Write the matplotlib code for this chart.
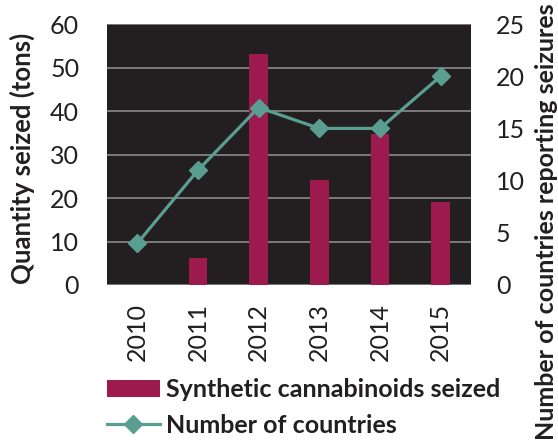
import matplotlib
matplotlib.use("Agg")
import matplotlib.pyplot as plt
from matplotlib.patches import Patch
from matplotlib.lines import Line2D

years = ["2010", "2011", "2012", "2013", "2014", "2015"]
quantity_tons = [0.0, 6.2, 53.1, 24.1, 34.7, 19.1]
num_countries = [4, 11, 17, 15, 15, 20]

bar_color = "#9c1a4e"
line_color = "#5a9e91"
bg_color = "#231f20"
grid_color = "#8a8a8a"
text_color = "#231f20"

plt.rcParams['font.family'] = ['Lato', 'DejaVu Sans']

fig = plt.figure(figsize=(5.58, 4.40), dpi=100)
ax = fig.add_axes([107/558, 155/440, 364/558, 261/440])
ax.set_facecolor(bg_color)

x = list(range(len(years)))
ax.bar(x, quantity_tons, width=0.31, color=bar_color, zorder=2)
ax.set_ylim(0, 60)
ax.set_xlim(-0.5, len(years) - 0.5)
ax.set_yticks(range(0, 61, 10))
ax.yaxis.grid(True, color=grid_color, linewidth=1.2, zorder=1)
ax.set_axisbelow(True)
ax.set_xticks(x)
ax.set_xticklabels(years, rotation=90, fontsize=18, color=text_color)
ax.tick_params(axis='x', length=0, pad=13)
ax.tick_params(axis='y', length=0, pad=20, labelsize=18, labelcolor=text_color)
for s in ax.spines.values():
    s.set_visible(False)

ax2 = ax.twinx()
ax2.plot(x, num_countries, color=line_color, linewidth=2.3, marker='D', markersize=9.5, zorder=3)
ax2.set_ylim(0, 25)
ax2.set_yticks(range(0, 26, 5))
ax2.tick_params(axis='y', length=0, pad=18, labelsize=18, labelcolor=text_color)
for s in ax2.spines.values():
    s.set_visible(False)

fig.text(22/558, 1 - 158/440, "Quantity seized (tons)", rotation=90, ha='center', va='center',
         fontsize=18.5, fontweight='bold', color=text_color)
fig.text(546/558, 1 - 222/440, "Number of countries reporting seizures", rotation=90,
         ha='center', va='center', fontsize=18, fontweight='bold', color=text_color)

handles = [Patch(facecolor=bar_color, edgecolor='none'),
           Line2D([0], [0], color=line_color, linewidth=2.3, marker='D', markersize=9.5)]
labels = ["Synthetic cannabinoids seized", "Number of countries"]
fig.legend(handles, labels, loc='upper left', bbox_to_anchor=(107/558, 1 - 378/440),
           frameon=False, prop={'family': ['Lato', 'DejaVu Sans'], 'weight': 'bold', 'size': 18},
           handlelength=2.1, handletextpad=0.25, labelspacing=0.5, borderpad=0, borderaxespad=0,
           labelcolor=text_color)

fig.savefig("out.png", dpi=100)
